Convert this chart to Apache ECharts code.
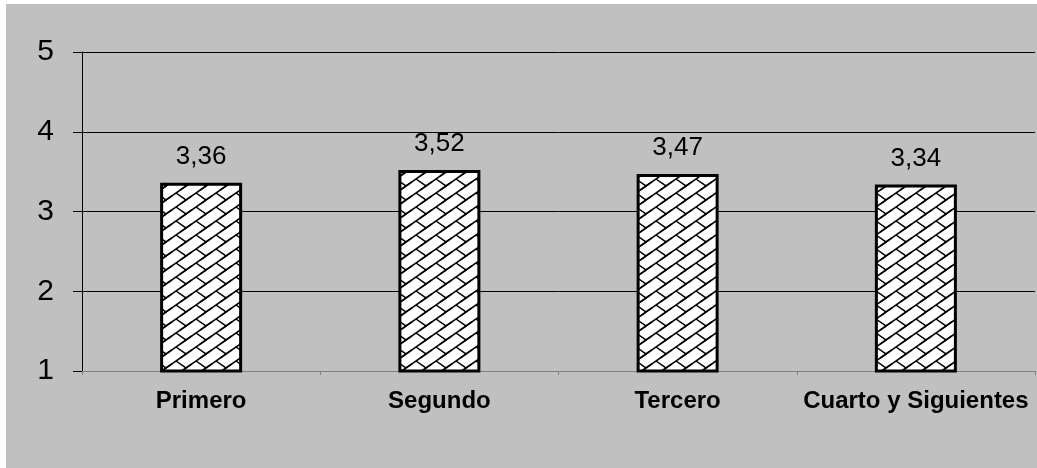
<!DOCTYPE html>
<html>
<head>
<meta charset="utf-8">
<script src="https://cdn.jsdelivr.net/npm/echarts@6/dist/echarts.min.js"></script>
<style>
html,body{margin:0;padding:0;background:#ffffff;width:1037px;height:468px;overflow:hidden;}
#chart{position:absolute;left:6px;top:4px;width:1031px;height:464px;background:#c0c0c0;}
</style>
</head>
<body>
<div id="chart"></div>
<script>
const categories = ['Primero', 'Segundo', 'Tercero', 'Cuarto y Siguientes'];
const values = [3.36, 3.52, 3.47, 3.34];
const yTicks = [1, 2, 3, 4, 5];

// weave hatch pattern
function makePattern() {
  const W = 20, H = 14;
  const c = document.createElement('canvas');
  c.width = W; c.height = H;
  const ctx = c.getContext('2d');
  ctx.fillStyle = '#ffffff';
  ctx.fillRect(0, 0, W, H);
  ctx.strokeStyle = '#000000';
  ctx.lineWidth = 1.5;
  for (let ox = -W; ox <= W; ox += W) {
    for (let oy = -H; oy <= H; oy += H) {
      ctx.beginPath();
      ctx.moveTo(-W * 0.3 + ox, H * 1.3 + oy);
      ctx.lineTo(W * 1.3 + ox, -H * 0.3 + oy);
      ctx.stroke();
      ctx.beginPath();
      ctx.moveTo(W / 2 + ox, -H / 2 + oy);
      ctx.lineTo(W + ox, 0 + oy);
      ctx.stroke();
    }
  }
  return c;
}

const chart = echarts.init(document.getElementById('chart'), null, {renderer: 'canvas'});
const font = '"Liberation Sans", Arial, sans-serif';
chart.setOption({
  animation: false,
  backgroundColor: '#c0c0c0',
  grid: {left: 76, right: 2, top: 48, bottom: 97, containLabel: false},
  xAxis: {
    type: 'category',
    data: categories,
    boundaryGap: true,
    axisLine: {lineStyle: {color: '#808080', width: 1}},
    axisTick: {show: true, length: 4, lineStyle: {color: '#808080'}, alignWithLabel: false},
    axisLabel: {color: '#000000', fontFamily: font, fontSize: 24, fontWeight: 'bold', margin: 18, interval: 0}
  },
  yAxis: {
    type: 'value',
    min: yTicks[0],
    max: yTicks[yTicks.length - 1],
    interval: 1,
    axisLine: {show: true, lineStyle: {color: '#000000', width: 1}},
    axisTick: {show: true, length: 9, lineStyle: {color: '#000000'}},
    axisLabel: {color: '#000000', fontFamily: font, fontSize: 30, margin: 28},
    splitLine: {show: true, lineStyle: {color: '#000000', width: 1}}
  },
  series: [{
    type: 'bar',
    data: values,
    barWidth: 82,
    itemStyle: {
      color: {image: makePattern(), repeat: 'repeat'},
      borderColor: '#000000',
      borderWidth: 3
    },
    label: {
      show: true,
      position: 'top',
      distance: 13,
      color: '#000000',
      fontFamily: font,
      fontSize: 26,
      formatter: p => p.value.toFixed(2).replace('.', ',')
    }
  }]
});
</script>
</body>
</html>
